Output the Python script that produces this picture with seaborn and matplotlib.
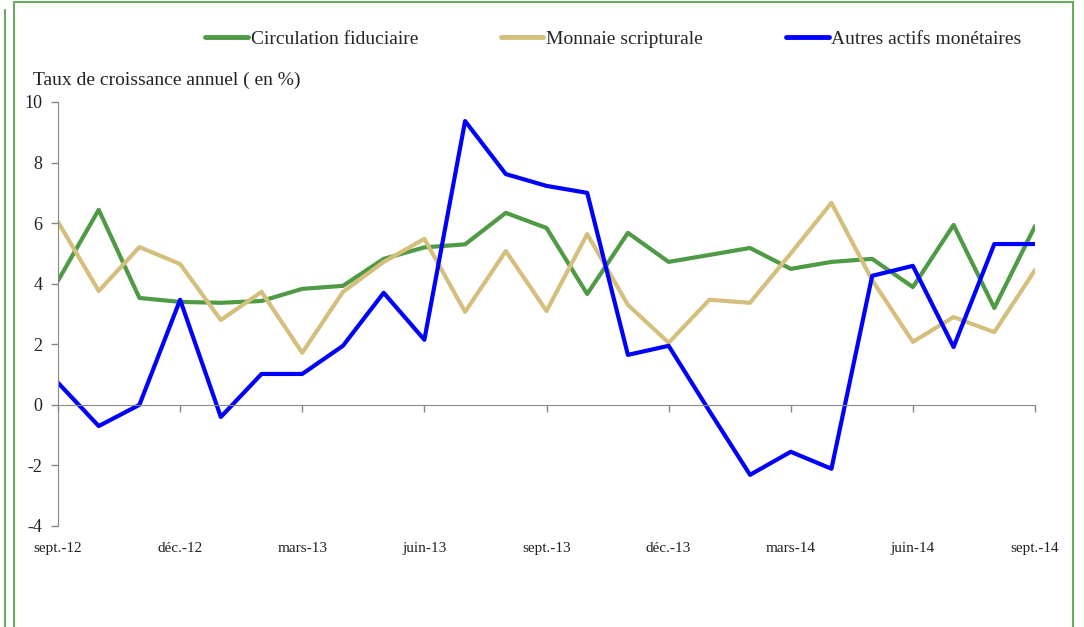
import pandas as pd
import matplotlib
matplotlib.use("Agg")
import matplotlib.pyplot as plt
import seaborn as sns
from matplotlib.patches import Rectangle
from matplotlib.lines import Line2D

# monthly data, sept.-12 to sept.-14
months = ["sept.-12", "oct.-12", "nov.-12", "déc.-12", "janv.-13", "févr.-13",
          "mars-13", "avr.-13", "mai-13", "juin-13", "juil.-13", "août-13",
          "sept.-13", "oct.-13", "nov.-13", "déc.-13", "janv.-14", "févr.-14",
          "mars-14", "avr.-14", "mai-14", "juin-14", "juil.-14", "août-14",
          "sept.-14"]

circulation = [4.1, 6.44, 3.53, 3.4, 3.37, 3.43, 3.83, 3.93, 4.82, 5.2, 5.3, 6.34,
               5.84, 3.66, 5.68, 4.72, 4.95, 5.18, 4.49, 4.72, 4.82, 3.89, 5.94, 3.2, 5.9]
scripturale = [6.04, 3.76, 5.21, 4.65, 2.8, 3.73, 1.72, 3.73, 4.72, 5.48, 3.07, 5.08,
               3.1, 5.64, 3.3, 2.05, 3.47, 3.37, 5.0, 6.67, 4.12, 2.08, 2.9, 2.4, 4.45]
autres = [0.73, -0.7, 0.0, 3.47, -0.4, 1.02, 1.02, 1.95, 3.7, 2.15, 9.37, 7.62,
          7.23, 7.0, 1.65, 1.95, -0.2, -2.31, -1.55, -2.11, 4.26, 4.59, 1.91, 5.31, 5.31]

series_names = ["Circulation fiduciaire", "Monnaie scripturale", "Autres actifs monétaires"]
colors = ["#4e9a45", "#d4bf7d", "#0000ff"]

tick_idx = list(range(0, 25, 3))
tick_labels = [months[i] for i in tick_idx]

df = pd.DataFrame({
    "idx": list(range(len(months))) * 3,
    "val": circulation + scripturale + autres,
    "serie": [series_names[0]] * 25 + [series_names[1]] * 25 + [series_names[2]] * 25,
})

sns.set_style("white")
plt.rcParams["font.family"] = ["Liberation Serif", "DejaVu Serif"]
plt.rcParams["axes.unicode_minus"] = False

fig = plt.figure(figsize=(10.84, 6.27), dpi=100)
ax = fig.add_axes([58 / 1084, 1 - 526 / 627, (1035 - 58) / 1084, (526 - 102) / 627])

sns.lineplot(data=df, x="idx", y="val", hue="serie", palette=colors,
             linewidth=3, ax=ax, legend=False)

ax.set_xlim(0, 24)
ax.set_ylim(-4, 10)
ax.set_yticks(range(-4, 11, 2))
ax.set_xticks(tick_idx)
ax.set_xticklabels([])
for i, lab in zip(tick_idx, tick_labels):
    ax.text(i, -4.75, lab, ha="center", va="center", fontsize=11,
            transform=ax.transData, color="#222222")

for s in ["top", "right"]:
    ax.spines[s].set_visible(False)
ax.spines["bottom"].set_position(("data", 0))
ax.spines["bottom"].set_color("#888888")
ax.spines["left"].set_color("#888888")
ax.tick_params(axis="x", bottom=True, direction="out", length=5, width=1, color="#888888")
ax.tick_params(axis="y", left=True, direction="out", length=5, width=1, color="#888888",
               labelsize=13, pad=6, labelcolor="#222222")
ax.set_xlabel("")
ax.set_ylabel("")

fig.text(33 / 1084, 1 - 80 / 627, "Taux de croissance annuel ( en %)",
         fontsize=14, va="center", ha="left", color="#222222")

handles = [Line2D([], [], color=c, linewidth=3.5) for c in colors]
fig.legend(handles, series_names, loc="center left",
           bbox_to_anchor=(205 / 1084, 1 - 39 / 627), ncol=3, frameon=False,
           fontsize=14, handlelength=2.2, handletextpad=0.15, columnspacing=4.25,
           borderaxespad=0, borderpad=0)

# green frame of the document box
fig.patches.append(Rectangle((14 / 1084, -0.1), (1073 - 14) / 1084, 1.1 - 2 / 627,
                             transform=fig.transFigure, fill=False,
                             edgecolor="#6aaa5e", linewidth=1.5))
fig.lines.append(Line2D([5 / 1084, 5 / 1084], [0, 1 - 10 / 627],
                        transform=fig.transFigure, color="#6aaa5e", linewidth=1.5))

fig.savefig("out.png", dpi=100)
